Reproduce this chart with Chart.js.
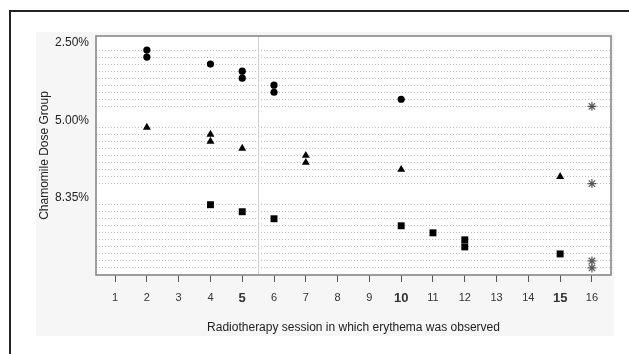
<!DOCTYPE html>
<html>
<head>
<meta charset="utf-8">
<script src="https://cdn.jsdelivr.net/npm/chart.js@4/dist/chart.umd.min.js"></script>
<style>
  html, body { margin: 0; padding: 0; background: #fff; width: 629px; height: 354px; overflow: hidden; }
  #frame { position: absolute; left: 9px; top: 10px; width: 640px; height: 360px; border-left: 2px solid #222; border-top: 2px solid #222; }
  #panel { position: absolute; left: 36px; top: 32px; width: 578px; height: 304px; background: #f6f6f6; }
  canvas { display: block; }
</style>
</head>
<body>
<div id="frame"></div>
<div id="panel"><canvas id="c" width="578" height="304"></canvas></div>
<script>
// ---- data ----
const doseGroups = ['2.50%', '5.00%', '8.35%'];
const sessions250 = [2, 2, 4, 5, 5, 6, 6, 10];
const sessions500 = [2, 4, 4, 5, 7, 7, 10, 15];
const sessions835 = [4, 5, 6, 10, 11, 12, 12, 15];
const censored250 = [16];
const censored500 = [16];
const censored835 = [16, 16];
const xTickValues = [1, 2, 3, 4, 5, 6, 7, 8, 9, 10, 11, 12, 13, 14, 15, 16];
const boldTicks = [5, 10, 15];
const dividerSession = 5.5;
const groupMarkers = ['circle', 'triangle', 'rect'];

// ---- build row layout (label row, member rows, blank row) ----
const observed = [sessions250, sessions500, sessions835];
const censored = [censored250, censored500, censored835];
const labelRows = {};
const memberRows = new Set();
const datasets = [];
const starPoints = [];
let start = 1;
observed.forEach((obs, g) => {
  labelRows[start] = doseGroups[g];
  const pts = [];
  let r = start + 1;
  obs.forEach(s => { pts.push({x: s, y: r}); memberRows.add(r); r++; });
  censored[g].forEach(s => { starPoints.push({x: s, y: r}); memberRows.add(r); r++; });
  datasets.push({
    data: pts, pointStyle: groupMarkers[g],
    pointRadius: g === 0 ? 3.6 : (g === 1 ? 4.6 : 4.9),
    backgroundColor: '#000', borderColor: '#000', borderWidth: 0
  });
  start = r + 1;
});
const yMax = start - 1;
datasets.push({
  data: starPoints, pointStyle: 'star', pointRadius: 4.5,
  borderColor: '#555', backgroundColor: '#555', borderWidth: 1.2
});

const frame = {
  id: 'frame',
  beforeDraw(chart) {
    const {ctx, chartArea: a} = chart;
    ctx.save();
    ctx.fillStyle = '#fff';
    ctx.fillRect(a.left, a.top, a.right - a.left, a.bottom - a.top);
    ctx.restore();
  },
  beforeDatasetsDraw(chart) {
    const {ctx, chartArea: a, scales} = chart;
    const x = scales.x.getPixelForValue(dividerSession);
    ctx.save();
    ctx.strokeStyle = '#cfcfcf';
    ctx.lineWidth = 1;
    ctx.beginPath();
    ctx.moveTo(Math.round(x) + 0.5, a.top);
    ctx.lineTo(Math.round(x) + 0.5, a.bottom);
    ctx.stroke();
    ctx.strokeStyle = '#888';
    ctx.lineWidth = 1.6;
    ctx.strokeRect(a.left, a.top, a.right - a.left, a.bottom - a.top);
    ctx.restore();
  }
};

new Chart(document.getElementById('c'), {
  type: 'scatter',
  data: { datasets },
  plugins: [frame],
  options: {
    responsive: false,
    animation: false,
    events: [],
    layout: { autoPadding: false, padding: { top: 4, right: 3, left: 0, bottom: 0 } },
    plugins: { legend: { display: false }, tooltip: { enabled: false } },
    scales: {
      x: {
        type: 'linear', min: 0.4, max: 16.6,
        afterBuildTicks: s => { s.ticks = xTickValues.map(v => ({value: v})); },
        afterFit: s => { s.height = 61; s.paddingLeft = 0; s.paddingRight = 0; },
        border: { display: false },
        grid: { drawOnChartArea: false, drawTicks: true, tickLength: 7, color: '#555', lineWidth: 1 },
        ticks: {
          padding: 9, color: '#333', autoSkip: false, maxRotation: 0,
          font: ctx => boldTicks.includes(ctx.tick && ctx.tick.value)
            ? {family: 'Liberation Sans', size: 13, weight: 'bold'}
            : {family: 'Liberation Sans', size: 11},
          callback: v => String(v)
        },
        title: {
          display: true, text: 'Radiotherapy session in which erythema was observed',
          color: '#222', font: {family: 'Liberation Sans', size: 12}, padding: {top: 0, bottom: 1}
        }
      },
      y: {
        type: 'linear', min: 0, max: yMax, reverse: true,
        afterBuildTicks: s => { const t = []; for (let i = 0; i <= yMax; i++) t.push({value: i}); s.ticks = t; },
        afterFit: s => { s.width = 60; s.paddingTop = 0; s.paddingBottom = 0; },
        border: { display: false, dash: [1, 2] },
        grid: {
          drawTicks: false, lineWidth: 1,
          color: ctx => memberRows.has(ctx.tick && ctx.tick.value) ? '#bdbdbd' : 'rgba(0,0,0,0)'
        },
        ticks: {
          padding: 7, color: '#222', autoSkip: false,
          font: {family: 'Liberation Sans', size: 12},
          callback: v => labelRows[v] || ''
        },
        title: {
          display: true, text: 'Chamomile Dose Group', color: '#222',
          font: {family: 'Liberation Sans', size: 12}, padding: {top: 1, bottom: 0}
        }
      }
    }
  }
});
</script>
</body>
</html>
